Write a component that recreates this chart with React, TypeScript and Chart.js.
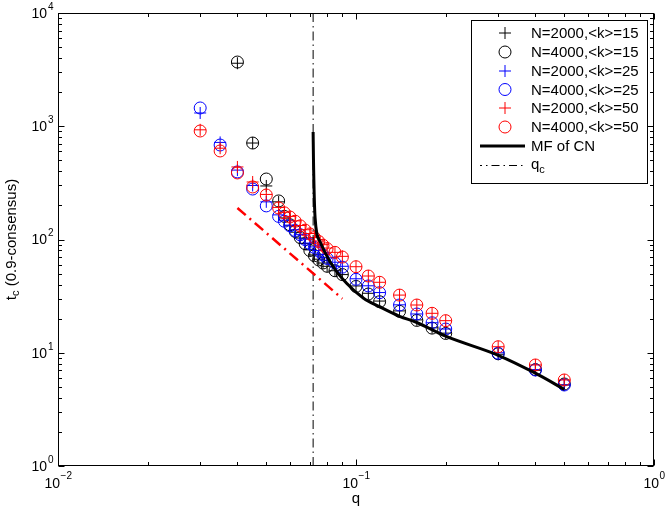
import React, { useEffect, useRef } from "react";
import { Chart, registerables } from "chart.js";

Chart.register(...registerables);

// ---- data ----
const qK15 = [0.04, 0.045, 0.05, 0.055, 0.0575, 0.06, 0.0625, 0.065, 0.0675, 0.07, 0.0725, 0.075, 0.0775, 0.08, 0.085, 0.09, 0.1, 0.11, 0.12, 0.14, 0.16, 0.18, 0.2, 0.3, 0.4, 0.5];
const qK25 = [0.03, 0.035, 0.04, 0.045, 0.05, 0.055, 0.0575, 0.06, 0.0625, 0.065, 0.0675, 0.07, 0.0725, 0.075, 0.0775, 0.08, 0.085, 0.09, 0.1, 0.11, 0.12, 0.14, 0.16, 0.18, 0.2, 0.3, 0.4, 0.5];
const qK50 = [0.03, 0.035, 0.04, 0.045, 0.05, 0.055, 0.0575, 0.06, 0.0625, 0.065, 0.0675, 0.07, 0.0725, 0.075, 0.0775, 0.08, 0.085, 0.09, 0.1, 0.11, 0.12, 0.14, 0.16, 0.18, 0.2, 0.3, 0.4, 0.5];

const tN2000K15 = [3600, 711, 297, 215, 155, 132, 116, 103, 92, 81, 73, 67, 62, 58, 53, 49, 38.9, 33.5, 28.6, 23.4, 19.5, 16.6, 14.9, 9.7, 7.0, 5.2];
const tN4000K15 = [3690, 711, 342, 219, 160, 135, 118, 104, 92, 80, 72, 66, 62, 58, 53, 49, 38.5, 33, 28.2, 23.2, 19.3, 16.5, 14.8, 9.8, 7.1, 5.3];
const tN2000K25 = [1310, 720, 410, 300, 215, 165, 148, 134, 122, 111, 101, 93, 86, 80, 74, 69, 63, 58, 45, 39, 34, 26.5, 22, 18.4, 16.2, 10, 7.1, 5.2];
const tN4000K25 = [1450, 683, 395, 279, 198, 160, 145, 132, 120, 110, 100, 92, 85, 79, 73, 68, 62, 57, 44.5, 38.9, 33.9, 26.4, 22, 18.4, 16.2, 9.9, 7.04, 5.19];
const tN2000K50 = [930, 640, 437, 322, 250, 192, 174, 160, 146, 133, 122, 113, 104, 97, 90, 84, 77, 71, 57.5, 47.6, 41.9, 32.3, 26.4, 22.3, 19.2, 11.3, 7.8, 5.75];
const tN4000K50 = [908, 605, 387, 291, 247, 190, 172, 158, 145, 132, 121, 112, 104, 96, 89, 83, 77, 70, 57.5, 47.6, 41.9, 32.3, 26.4, 22.3, 19.2, 11.3, 7.8, 5.75];

const qMF = [0.0718, 0.072, 0.0729, 0.0757, 0.082, 0.093, 0.106, 0.12, 0.14, 0.16, 0.2, 0.3, 0.4, 0.5];
const tMF = [890, 500, 155, 96, 63, 41, 30.3, 25.5, 21, 18.5, 14, 9.5, 6.6, 4.75];

const qRef = [0.04, 0.09];
const tRef = [190, 30];

const qc = 0.0718;
const qcSpan = [1, 10000];

const xMin = 0.01, xMax = 1;
const yMin = 1, yMax = 10000;
const xDecades = [-2, -1, 0];
const yDecades = [0, 1, 2, 3, 4];

const legendLabels = [
  "N=2000,<k>=15",
  "N=4000,<k>=15",
  "N=2000,<k>=25",
  "N=4000,<k>=25",
  "N=2000,<k>=50",
  "N=4000,<k>=50",
  "MF of CN",
  "q",
];

const FONT = '"Liberation Sans", Arial, Helvetica, sans-serif';
const BLUE = "#0000ff";
const RED = "#ff0000";

const pts = (xs: number[], ys: number[]) => xs.map((x, i) => ({ x, y: ys[i] }));

function drawCross(ctx: CanvasRenderingContext2D, x: number, y: number, r: number, c: string) {
  ctx.strokeStyle = c;
  ctx.lineWidth = 1;
  ctx.beginPath();
  ctx.moveTo(x - r, y);
  ctx.lineTo(x + r, y);
  ctx.moveTo(x, y - r);
  ctx.lineTo(x, y + r);
  ctx.stroke();
}
function drawCircle(ctx: CanvasRenderingContext2D, x: number, y: number, r: number, c: string) {
  ctx.strokeStyle = c;
  ctx.lineWidth = 1;
  ctx.beginPath();
  ctx.arc(x, y, r, 0, Math.PI * 2);
  ctx.stroke();
}

const overlay = {
  id: "overlay",
  afterDraw(chart: any) {
    const ctx: CanvasRenderingContext2D = chart.ctx;
    const { left, right, top, bottom } = chart.chartArea;
    const xs = chart.scales.x;
    const ys = chart.scales.y;
    ctx.save();
    ctx.strokeStyle = "#000";
    ctx.lineWidth = 1;
    const L = Math.round(left) + 0.5, R = Math.round(right) - 0.5;
    const T = Math.round(top) + 0.5, B = Math.round(bottom) - 0.5;
    ctx.strokeRect(L, T, R - L, B - T);

    // ticks
    ctx.beginPath();
    for (let d = yDecades[0]; d <= yDecades[yDecades.length - 1]; d++) {
      for (let m = 1; m <= 9; m++) {
        const v = m * Math.pow(10, d);
        if (v > yMax) break;
        const py = Math.round(ys.getPixelForValue(v)) + 0.5;
        const len = m === 1 ? 6 : 3.5;
        ctx.moveTo(L, py); ctx.lineTo(L + len, py);
        ctx.moveTo(R, py); ctx.lineTo(R - len, py);
      }
    }
    for (let d = xDecades[0]; d <= xDecades[xDecades.length - 1]; d++) {
      for (let m = 1; m <= 9; m++) {
        const v = m * Math.pow(10, d);
        if (v > xMax) break;
        const px = Math.round(xs.getPixelForValue(v)) + 0.5;
        const len = m === 1 ? 6 : 3.5;
        ctx.moveTo(px, B); ctx.lineTo(px, B - len);
        ctx.moveTo(px, T); ctx.lineTo(px, T + len);
      }
    }
    ctx.stroke();

    // tick labels
    ctx.fillStyle = "#000";
    ctx.textBaseline = "middle";
    for (const e of yDecades) {
      const py = ys.getPixelForValue(Math.pow(10, e));
      ctx.font = `14px ${FONT}`;
      ctx.textAlign = "right";
      ctx.fillText("10", 47, py + 1);
      ctx.font = `10px ${FONT}`;
      ctx.textAlign = "left";
      ctx.fillText(String(e), 48, py - 6);
    }
    for (const e of xDecades) {
      const px = xs.getPixelForValue(Math.pow(10, e));
      const sup = e < 0 ? "\u2212" + String(-e) : String(e);
      ctx.font = `14px ${FONT}`;
      const w1 = ctx.measureText("10").width;
      ctx.font = `10px ${FONT}`;
      const w2 = ctx.measureText(sup).width;
      const x0 = px - (w1 + w2) / 2;
      ctx.textAlign = "left";
      ctx.font = `14px ${FONT}`;
      ctx.fillText("10", x0, 484);
      ctx.font = `10px ${FONT}`;
      ctx.fillText(sup, x0 + w1 + 0.5, 476);
    }

    // axis titles
    ctx.font = `15px ${FONT}`;
    ctx.textAlign = "center";
    ctx.fillText("q", (left + right) / 2, 499);

    ctx.save();
    ctx.translate(12, (top + bottom) / 2);
    ctx.rotate(-Math.PI / 2);
    ctx.textAlign = "left";
    ctx.font = `15px ${FONT}`;
    const wt = ctx.measureText("t").width;
    const rest = " (0.9-consensus)";
    const wr = ctx.measureText(rest).width;
    ctx.font = `11px ${FONT}`;
    const wc = ctx.measureText("c").width;
    const total = wt + wc + wr;
    let cx = -total / 2;
    ctx.font = `15px ${FONT}`;
    ctx.fillText("t", cx, 0);
    cx += wt;
    ctx.font = `11px ${FONT}`;
    ctx.fillText("c", cx, 4);
    cx += wc;
    ctx.font = `15px ${FONT}`;
    ctx.fillText(rest, cx, 0);
    ctx.restore();

    // legend
    const bx = 471.5, by = 20.5, bw = 176, bh = 163;
    ctx.fillStyle = "#fff";
    ctx.fillRect(bx, by, bw, bh);
    ctx.strokeStyle = "#000";
    ctx.lineWidth = 1;
    ctx.strokeRect(bx, by, bw, bh);
    const rows = [33, 52, 71, 89.5, 108, 127, 146, 165];
    const mx = 505;
    drawCross(ctx, mx, rows[0], 6, "#000");
    drawCircle(ctx, mx, rows[1], 6, "#000");
    drawCross(ctx, mx, rows[2], 6, BLUE);
    drawCircle(ctx, mx, rows[3], 6, BLUE);
    drawCross(ctx, mx, rows[4], 6, RED);
    drawCircle(ctx, mx, rows[5], 6, RED);
    ctx.strokeStyle = "#000";
    ctx.lineWidth = 3;
    ctx.beginPath();
    ctx.moveTo(480, rows[6]);
    ctx.lineTo(525, rows[6]);
    ctx.stroke();
    ctx.lineWidth = 1;
    ctx.setLineDash([8, 4, 1.5, 4]);
    ctx.lineDashOffset = 6;
    ctx.beginPath();
    ctx.moveTo(480, rows[7] + 0.5);
    ctx.lineTo(526, rows[7] + 0.5);
    ctx.stroke();
    ctx.setLineDash([]);
    ctx.fillStyle = "#000";
    ctx.textAlign = "left";
    ctx.textBaseline = "middle";
    ctx.font = `15px ${FONT}`;
    for (let i = 0; i < 7; i++) ctx.fillText(legendLabels[i], 531, rows[i] + 1);
    ctx.fillText(legendLabels[7], 531, rows[7]);
    const wq = ctx.measureText(legendLabels[7]).width;
    ctx.font = `11px ${FONT}`;
    ctx.fillText("c", 531 + wq, rows[7] + 5);
    ctx.restore();
  },
};

export default function App() {
  const ref = useRef<HTMLCanvasElement>(null);
  useEffect(() => {
    document.body.style.margin = "0";
    const markerBase = { showLine: false, pointRadius: 6, pointHoverRadius: 6, pointBorderWidth: 1, borderWidth: 1, backgroundColor: "rgba(0,0,0,0)" };
    const chart = new Chart(ref.current as HTMLCanvasElement, {
      type: "scatter",
      data: {
        datasets: [
          { ...markerBase, label: legendLabels[0], data: pts(qK15, tN2000K15), pointStyle: "cross", borderColor: "#000", order: 5 },
          { ...markerBase, label: legendLabels[1], data: pts(qK15, tN4000K15), pointStyle: "circle", borderColor: "#000", order: 5 },
          { ...markerBase, label: legendLabels[2], data: pts(qK25, tN2000K25), pointStyle: "cross", borderColor: BLUE, order: 4 },
          { ...markerBase, label: legendLabels[3], data: pts(qK25, tN4000K25), pointStyle: "circle", borderColor: BLUE, order: 4 },
          { ...markerBase, label: legendLabels[4], data: pts(qK50, tN2000K50), pointStyle: "cross", borderColor: RED, order: 3 },
          { ...markerBase, label: legendLabels[5], data: pts(qK50, tN4000K50), pointStyle: "circle", borderColor: RED, order: 3 },
          { label: legendLabels[6], data: pts(qMF, tMF), showLine: true, pointRadius: 0, borderColor: "#000", borderWidth: 3, cubicInterpolationMode: "monotone", order: 0 },
          { label: "ref", data: pts(qRef, tRef), showLine: true, pointRadius: 0, borderColor: RED, borderWidth: 2.5, borderDash: [11, 5, 2, 5], order: 1 },
          { label: "qc", data: pts([qc, qc], qcSpan), showLine: true, pointRadius: 0, borderColor: "#000", borderWidth: 1, borderDash: [9, 4, 1.5, 4], order: 1 },
        ],
      } as any,
      options: {
        animation: false,
        responsive: false,
        events: [],
        layout: { padding: { left: 58, top: 13, right: 12, bottom: 46 } },
        plugins: { legend: { display: false }, tooltip: { enabled: false } },
        scales: {
          x: { type: "logarithmic", min: xMin, max: xMax, display: false },
          y: { type: "logarithmic", min: yMin, max: yMax, display: false },
        },
      } as any,
      plugins: [overlay],
    });
    return () => chart.destroy();
  }, []);
  return (
    <div style={{ width: 666, height: 512, background: "#fff" }}>
      <canvas ref={ref} width={666} height={512} style={{ display: "block" }} />
    </div>
  );
}
